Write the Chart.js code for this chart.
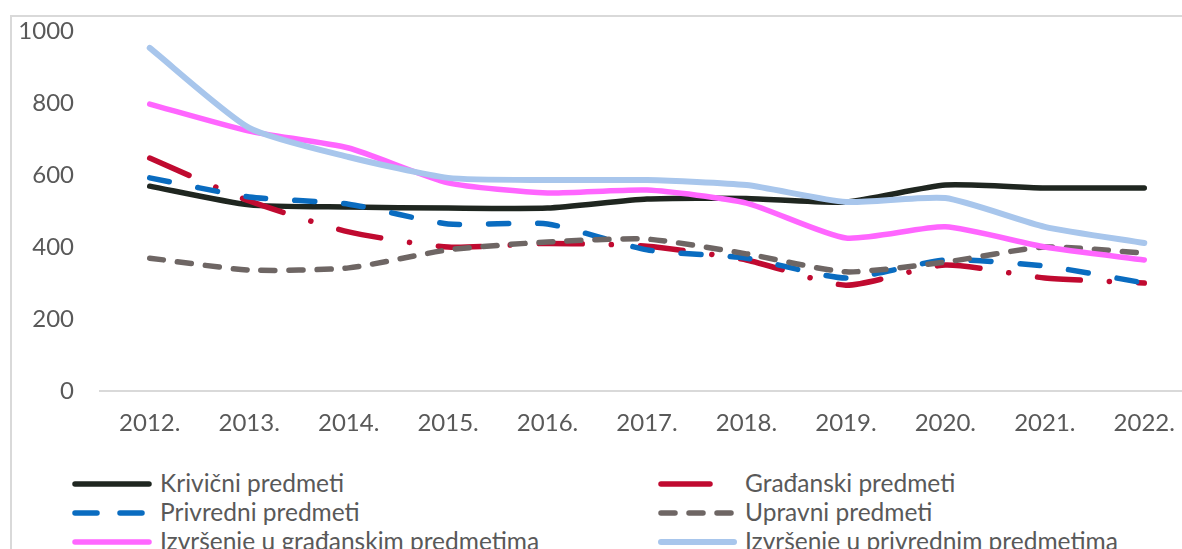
<!DOCTYPE html>
<html>
<head>
<meta charset="utf-8">
<script src="https://cdn.jsdelivr.net/npm/chart.js@4/dist/chart.umd.min.js"></script>
<style>
  html, body { margin: 0; padding: 0; background: #fff; overflow: hidden; width: 1182px; height: 549px; }
  #frame { position: absolute; left: 10px; top: 15px; width: 1250px; height: 700px; border: 2px solid #d9d9d9; box-sizing: border-box; }
  #wrap { position: absolute; left: 0; top: 0; width: 1200px; height: 455px; }
  .leg { position: absolute; font-family: Lato, "Open Sans", sans-serif; font-size: 24.5px; color: #595959; white-space: nowrap; line-height: 28px; }
</style>
</head>
<body>
<div id="frame"></div>
<div id="wrap"><canvas id="c" width="1200" height="455"></canvas></div>
<div id="legend"></div>
<script>
const categories = ['2012.', '2013.', '2014.', '2015.', '2016.', '2017.', '2018.', '2019.', '2020.', '2021.', '2022.'];
const yTicks = [0, 200, 400, 600, 800, 1000];

const krivicni   = [569, 517, 511, 508, 508, 533, 535, 525, 572, 564, 564];
const gradjanski = [647, 528, 442, 400, 410, 402, 364, 294, 350, 314, 300];
const privredni  = [592, 539, 519, 464, 464, 392, 369, 314, 364, 347, 300];
const upravni    = [369, 336, 342, 392, 414, 422, 381, 331, 358, 400, 383];
const izvrsGradj = [797, 722, 675, 578, 550, 558, 522, 425, 456, 400, 364];
const izvrsPriv  = [953, 731, 650, 592, 586, 586, 572, 525, 536, 456, 411];

const seriesNames = ['Krivični predmeti', 'Građanski predmeti', 'Privredni predmeti', 'Upravni predmeti', 'Izvršenje u građanskim predmetima', 'Izvršenje u privrednim predmetima'];
const seriesData = [krivicni, gradjanski, privredni, upravni, izvrsGradj, izvrsPriv];
const seriesColors = ['#1f2620', '#c00a30', '#0a6cc0', '#6e6664', '#ff66ff', '#a8c6ec'];
const seriesDash = [[], [43, 29, 0.1, 29], [20, 29], [14, 14], [], []];
const seriesWidth = [5.5, 5.5, 5.5, 5.5, 5.5, 6];

const datasets = seriesNames.map((name, i) => ({
  label: name,
  data: seriesData[i],
  borderColor: seriesColors[i],
  backgroundColor: seriesColors[i],
  borderWidth: seriesWidth[i],
  borderDash: seriesDash[i],
  borderCapStyle: 'round',
  borderJoinStyle: 'round',
  pointRadius: 0,
  tension: 0.2,
  fill: false,
  order: 6 - i
}));

new Chart(document.getElementById('c'), {
  type: 'line',
  data: { labels: categories, datasets },
  options: {
    responsive: false,
    animation: false,
    devicePixelRatio: 1,
    layout: { padding: { left: 0, top: 31, right: 6, bottom: 0 } },
    plugins: { legend: { display: false }, tooltip: { enabled: false } },
    scales: {
      x: {
        offset: true,
        grid: { display: false, drawTicks: false },
        border: { display: true, color: '#d9d9d9', width: 2 },
        ticks: { color: '#595959', font: { family: 'Lato', size: 24 }, padding: 18, maxRotation: 0, autoSkip: false },
        afterFit: s => { s.height = 64; }
      },
      y: {
        min: 0, max: 1000,
        afterBuildTicks: s => { s.ticks = yTicks.map(v => ({ value: v })); },
        grid: { display: false, drawTicks: false },
        border: { display: false },
        ticks: { color: '#595959', font: { family: 'Lato', size: 24 }, padding: 26, callback: v => String(v) },
        afterFit: s => { s.width = 100; s.paddingTop = 0; s.paddingBottom = 0; }
      }
    }
  }
});

// HTML legend in two columns
const legendPos = [
  { x: 75, y: 484, tx: 160 },
  { x: 661, y: 484, tx: 745 },
  { x: 75, y: 513, tx: 160 },
  { x: 661, y: 513, tx: 745 },
  { x: 75, y: 542, tx: 160 },
  { x: 661, y: 542, tx: 745 }
];
const legendDash = ['', '', '22 23', '14 14', '', ''];
const legendLen = [79, 54, 79, 78, 79, 78];
const legEl = document.getElementById('legend');
seriesNames.forEach((name, i) => {
  const p = legendPos[i];
  const svgNS = 'http://www.w3.org/2000/svg';
  const svg = document.createElementNS(svgNS, 'svg');
  svg.setAttribute('width', 90);
  svg.setAttribute('height', 12);
  svg.style.position = 'absolute';
  svg.style.left = (p.x - 3) + 'px';
  svg.style.top = (p.y - 6) + 'px';
  const ln = document.createElementNS(svgNS, 'line');
  ln.setAttribute('x1', 3);
  ln.setAttribute('x2', 3 + legendLen[i] - 5);
  ln.setAttribute('y1', 6);
  ln.setAttribute('y2', 6);
  ln.setAttribute('stroke', seriesColors[i]);
  ln.setAttribute('stroke-width', seriesWidth[i]);
  ln.setAttribute('stroke-linecap', 'round');
  if (legendDash[i]) ln.setAttribute('stroke-dasharray', legendDash[i]);
  svg.appendChild(ln);
  legEl.appendChild(svg);
  const t = document.createElement('div');
  t.className = 'leg';
  t.style.left = p.tx + 'px';
  t.style.top = (p.y - 15) + 'px';
  t.textContent = name;
  legEl.appendChild(t);
});
</script>
</body>
</html>
